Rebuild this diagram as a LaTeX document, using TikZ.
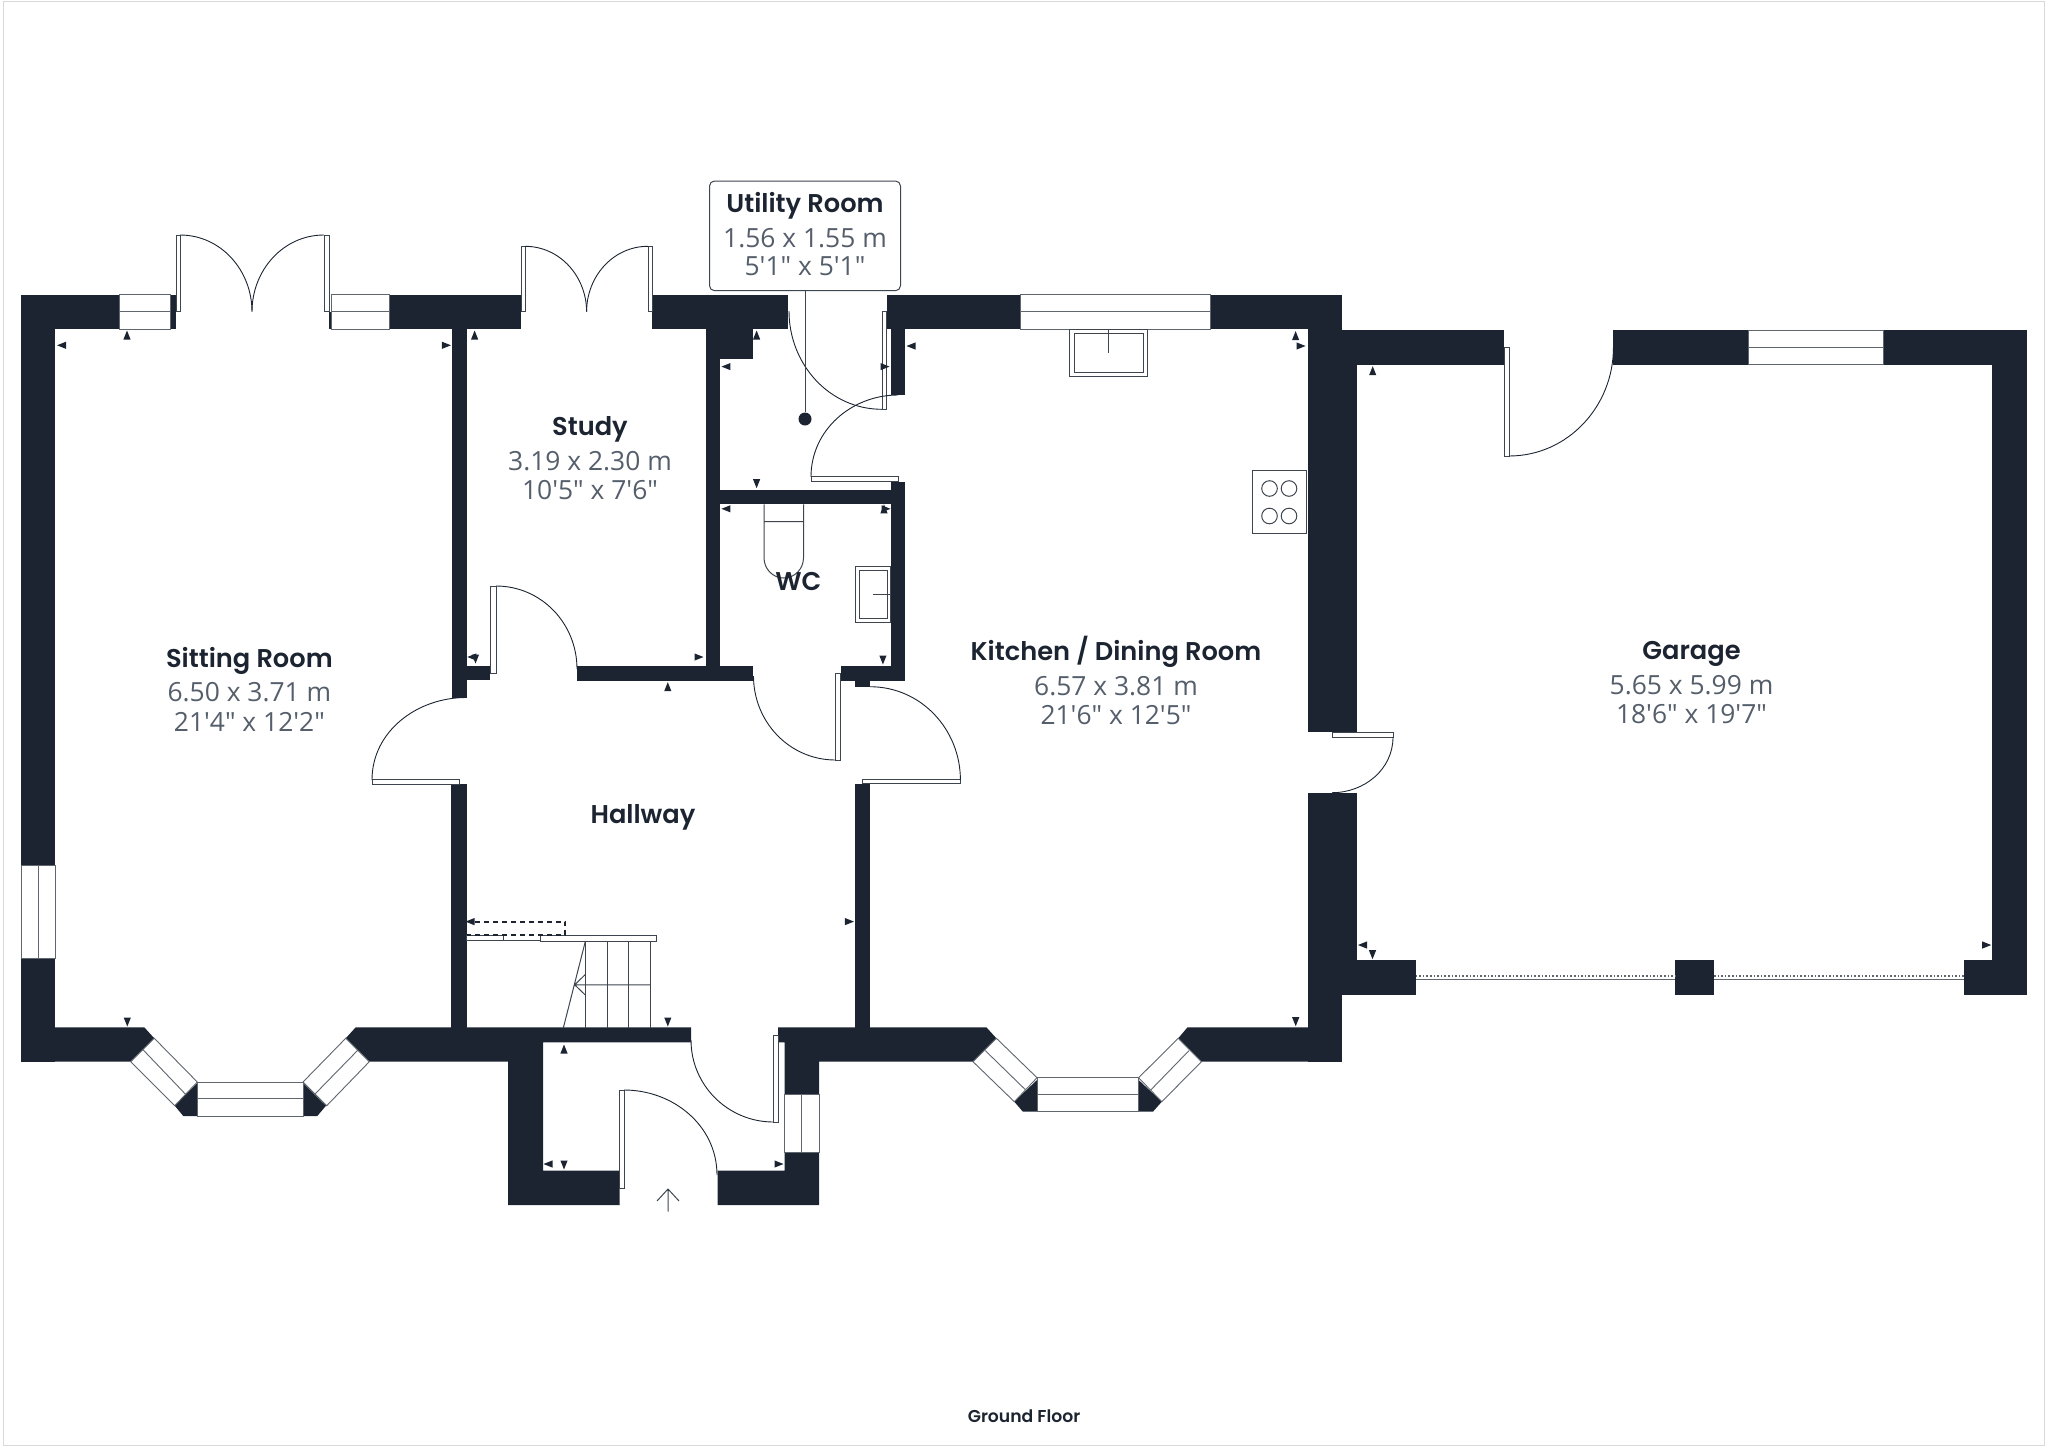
\documentclass[tikz,border=0pt]{standalone}
\usepackage{fontspec}
\newfontfamily\dimfont{Open Sans}
\newfontfamily\namefont{Poppins SemiBold}
\definecolor{wallcol}{HTML}{1B2430}
\definecolor{dimcol}{HTML}{555E6B}
\definecolor{framecol}{HTML}{D9D9D9}
\tikzset{
	wall/.style={fill=wallcol,draw=none},
	pane/.style={fill=white,draw=wallcol!70,line width=.9pt},
	leaf/.style={fill=white,draw=wallcol!85,line width=.9pt},
	swing/.style={draw=wallcol,line width=.9pt},
	fitting/.style={draw=wallcol!85,line width=1pt},
	roomname/.style={anchor=base,inner sep=0,text=wallcol,font=\namefont\fontsize{25.7}{25.7}\selectfont},
	roomdim/.style={anchor=base,inner sep=0,text=dimcol,font=\dimfont\fontsize{26.4}{26.4}\selectfont}
}
\begin{document}
\begin{tikzpicture}[x=1pt,y=-1pt]
\useasboundingbox (0,0) rectangle (2048,1446);
\draw[framecol,line width=1pt] (3,1) rectangle (2044.5,1445);
% walls
\foreach \xa/\ya/\xb/\yb in {21/294.5/119/329,21/294.5/55/1061.7,170/294.5/176/329,329/311.7/331/329,
	389/294.5/521/329,452/329/466.5/697.5,466.5/666/490/680,451.4/784/466.5/1028,652/294.5/788/329,
	705.7/329/720/680.7,720/329/753.4/359.4,577/666/753.4/680.5,887/294.5/1020.6/329,890.7/329/905.4/395,
	720/489.5/890.7/504.4,890.7/482/905.4/680.7,840.5/666/905.4/680.7,855/680/870/686.7,855/784/870/1028,
	1210/294.5/1341.8/329,1307.5/294.5/1341.8/732,1341.8/330.3/1357.3/732,1307.5/793.3/1357.3/960,
	1307.5/960/1341.8/1061.7,1341.8/960/1415.6/994.9,1342/330.3/1504/364.7,1613.4/330.3/1748/364.7,
	1883/330.3/2027/364.7,1992.3/330.3/2027/960,1964.4/960/2027/995,1675/960/1714/995}
	\path[wall] (\xa,\ya) rectangle (\xb,\yb);
\path[wall] (21,1027.3) -- (144.3,1027.3) -- (154.3,1038.3) -- (130.7,1061.7) -- (21,1061.7) -- cycle;
\path[wall] (355.7,1027.3) -- (345.7,1038.3) -- (369.3,1061.7) -- (508,1061.7) -- (508,1205) -- (619.6,1205)
	-- (619.6,1170.6) -- (543,1170.6) -- (543,1042.3) -- (691,1042.3) -- (691,1027.3) -- cycle;
\path[wall] (778,1027.3) -- (986.4,1027.3) -- (996.4,1038.3) -- (973,1061.7) -- (819,1061.7) -- (819,1205)
	-- (717.6,1205) -- (717.6,1170.6) -- (784.5,1170.6) -- (784.5,1042.3) -- (778,1042.3) -- cycle;
\path[wall] (1187.5,1027.3) -- (1341.8,1027.3) -- (1341.8,1061.7) -- (1201.4,1061.7) -- (1178.2,1038.3) -- cycle;
% bay corners
\path[wall] (197.3,1083) -- (197.3,1116) -- (183.3,1116) -- (174.7,1105.7) -- cycle;
\path[wall] (303,1083) -- (303,1116) -- (317.3,1116) -- (326,1105.7) -- cycle;
\path[wall] (1037,1080) -- (1037,1111.7) -- (1022.9,1111.7) -- (1014.3,1101.7) -- cycle;
\path[wall] (1138.6,1080) -- (1138.6,1111.7) -- (1152.9,1111.7) -- (1161.8,1101.7) -- cycle;
% windows, horizontal
\foreach \xa/\xb/\ya/\ym/\yb in {119/170/294.5/311.7/329,331/389/294.5/311.7/329,1020.6/1210/294.5/311.5/329,
	1748/1883/330.3/347.7/364.7,197.3/303/1082/1098.7/1116,1037/1138.6/1077.7/1094.7/1111.7}{
	\draw[pane] (\xa,\ya) rectangle (\xb,\yb);
	\draw[pane] (\xa,\ym) -- (\xb,\ym);
}
% windows, vertical
\foreach \xa/\xm/\xb/\ya/\yb in {21/38.7/55/865.7/958,784.5/801.6/819/1094/1152}{
	\draw[pane] (\xa,\ya) rectangle (\xb,\yb);
	\draw[pane] (\xm,\ya) -- (\xm,\yb);
}
% windows, bay sides
\draw[pane] (154.3,1038.3) -- (197.3,1082) -- (174.7,1105.7) -- (130.7,1061.7) -- cycle (143.3,1050) -- (185.3,1094);
\draw[pane] (303,1082) -- (345.7,1038.3) -- (369.3,1061.7) -- (326.7,1105.7) -- cycle (315,1094) -- (357.3,1050.7);
\draw[pane] (996.4,1038.3) -- (1037,1077.7) -- (1014.3,1101.7) -- (973,1061.7) -- cycle (985.4,1050.7) -- (1025.7,1090);
\draw[pane] (1138.6,1077.7) -- (1178.2,1038.3) -- (1201.4,1061.7) -- (1161.8,1101.7) -- cycle (1150.7,1090) -- (1188.9,1050.7);
% door leaves
\foreach \xa/\ya/\xb/\yb in {176/235/180/311.7,324/235/329/311.7,521/246.3/525/311.7,648/246.3/652/311.7,
	882/311.5/886.6/409.3,811/476.8/898/481.6,490.5/586/496/673,835.5/673/840/760,862.4/779.5/960.4/783.7,
	372/779.5/459/784,1332/732/1393/737,1504/347.7/1509/456,773.5/1035.4/778/1122,619.6/1090/624/1188}
	\draw[leaf] (\xa,\ya) rectangle (\xb,\yb);
% door swings
\draw[swing] (180,235) to[out=0,in=90] (252,311.7);
\draw[swing] (324,235) to[out=180,in=90] (252,311.7);
\draw[swing] (525,246.3) to[out=0,in=90] (586.6,311.7);
\draw[swing] (648,246.3) to[out=180,in=90] (586.6,311.7);
\draw[swing] (789,311) to[out=270,in=180] (882,409.3);
\draw[swing] (898,395) to[out=180,in=90] (811,476.8);
\draw[swing] (496,586) to[out=0,in=90] (577,669);
\draw[swing] (753.5,676) to[out=270,in=180] (835.5,760);
\draw[swing] (870,686.7) to[out=0,in=90] (960.4,780);
\draw[swing] (466,697.5) to[out=180,in=90] (372,780);
\draw[swing] (1393,737) to[out=270,in=0] (1332,792.7);
\draw[swing] (1509,456) to[out=0,in=270] (1613.4,347.7);
\draw[swing] (691,1040) to[out=270,in=180] (773.5,1122);
\draw[swing] (624,1090) to[out=0,in=90] (717,1175);
% garage door
\foreach \xa/\xb in {1415.6/1675,1714/1964.4}{
	\draw[wallcol!70,line width=1.6pt,dotted] (\xa,975.7) -- (\xb,975.7);
	\draw[wallcol!70,line width=1pt] (\xa,979.2) -- (\xb,979.2);
}
% sink, hob, wc, basin
\draw[fitting] (1069.8,329.4) rectangle (1147,376) (1074,333.5) rectangle (1143,372) (1108,329.4) -- (1108,353);
\draw[fitting] (1252,470.6) rectangle (1306,533.6);
\foreach \hx in {1269.5,1289}
	\foreach \hy in {488.5,516}
		\draw[fitting] (\hx,\hy) circle[radius=7.8];
\draw[fitting] (764,504.4) -- (764,557.7) to[out=270,in=180] (783.7,578) to[out=0,in=270] (803.5,557.7) -- (803.5,504.4) (764,521.6) -- (803.5,521.6);
\draw[fitting] (855.8,566.7) rectangle (890,622) (859.5,570.5) rectangle (887,618) (872.8,594) -- (890,594);
% stairs
\draw[leaf] (466.5,935.8) rectangle (503,940.4);
\draw[leaf] (540,935.4) rectangle (656.3,941.5);
\draw[fitting] (503,940) -- (540,940);
\foreach \sx in {585.3,607,628.6,650.2}
	\draw[fitting] (\sx,941.5) -- (\sx,1028);
\draw[fitting] (574.7,984.8) -- (650.2,984.8) (585.3,941.5) -- (563.3,1028) (585.3,974.5) -- (574.7,984.8) -- (585.3,995);
\draw[wallcol,line width=1.8pt,dash pattern=on 5pt off 4pt] (475,921.6) -- (565.3,921.6) -- (565.3,935) -- (466.5,935);
% entrance arrow
\draw[fitting] (668,1211.6) -- (668,1189) (657,1201) -- (668,1189) -- (679,1201);
% dimension ticks
\foreach \tx/\ty/\ta in {61.6/345.3/180,127/335/90,446.4/345.3/0,474.6/335/90,471.8/657/180,475.5/659/270,
	699/657/0,667.8/686.7/90,882.9/660/270,756.6/335/90,725.9/366.6/180,885/366.6/0,911/346/180,1295.6/335.6/90,
	1301/346/0,756.6/483.7/270,725.9/508.8/180,884/508.8/90,886/508.8/0,849.4/921.6/0,470/921.6/180,667.8/1022/270,
	564/1049/90,548/1164/180,564/1165/270,779/1164/0,127.3/1022/270,1295.7/1021.7/270,1362.5/945/180,1372.5/954.7/270,
	1986.7/945/0,1372.7/370.7/90}
	\fill[wallcol,shift={(\tx,\ty)},rotate=\ta] (4.5,0) -- (-4.5,3.6) -- (-4.5,-3.6) -- cycle;
% labels
\node[roomname] (sittingname) at (249.4,667.5) {Sitting Room};
\node[roomdim] (sittingmetric) at (249.4,701.5) {6.50 x 3.71 m};
\node[roomdim] (sittingimperial) at (249.4,731) {21'4" x 12'2"};
\node[roomname] (studyname) at (590,435) {Study};
\node[roomdim] (studymetric) at (590,470) {3.19 x 2.30 m};
\node[roomdim] (studyimperial) at (590,499) {10'5" x 7'6"};
\node[draw=wallcol!85,fill=white,rounded corners=5pt,minimum width=191pt,minimum height=109.7pt,inner sep=0,line width=1pt] (utilitybox) at (805,235.85) {};
\node[circle,fill=wallcol,minimum size=13pt,inner sep=0] (lightdot) at (805,419) {};
\draw[fitting] (utilitybox.south) -- (lightdot);
\node[roomname] (utilityname) at (805,212) {Utility Room};
\node[roomdim] (utilitymetric) at (805,247) {1.56 x 1.55 m};
\node[roomdim] (utilityimperial) at (805,275.5) {5'1" x 5'1"};
\node[roomname] (wcname) at (798.4,590) {WC};
\node[roomname] (kitchenname) at (1116,660) {Kitchen / Dining Room};
\node[roomdim] (kitchenmetric) at (1116,695.5) {6.57 x 3.81 m};
\node[roomdim] (kitchenimperial) at (1116,724.5) {21'6" x 12'5"};
\node[roomname] (garagename) at (1691.5,659) {Garage};
\node[roomdim] (garagemetric) at (1691.5,694.5) {5.65 x 5.99 m};
\node[roomdim] (garageimperial) at (1691.5,723) {18'6" x 19'7"};
\node[roomname] (hallwayname) at (643,823.5) {Hallway};
\node[roomname,font=\namefont\fontsize{17.2}{17.2}\selectfont] (floorname) at (1024,1422.5) {Ground Floor};
\end{tikzpicture}
\end{document}
